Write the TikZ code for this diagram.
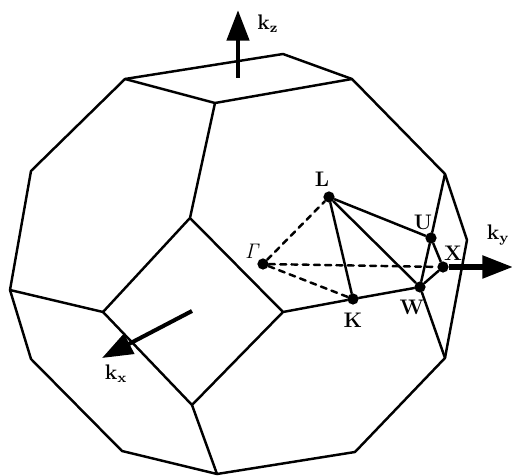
\documentclass[tikz,border=0pt]{standalone}
\usepackage{amsmath,amssymb}
\usepackage{tikz}
\usetikzlibrary{arrows.meta}
\tikzset{
 edge/.style={line width=1.4pt,line join=round,line cap=round},
 path/.style={edge,dash pattern=on 3.4pt off 3pt},
 axis/.style={line width=2.5pt,-{Triangle[length=17.5pt,width=12.5pt]}},
 pt/.style={circle,fill=black,inner sep=0pt,minimum size=6.4pt},
 lab/.style={inner sep=0pt,font=\fontsize{12}{14}\selectfont\bfseries}
}
\begin{document}
\begin{tikzpicture}[x=0.02cm,y=-0.02cm]
 \useasboundingbox (0,0) rectangle (512,476);
 % outline of the zone
 \draw[edge] (125,79) -- (283,54) -- (352,79) -- (445,174) -- (467,240) -- (445,358)
  -- (355,452) -- (217,474) -- (122,451) -- (31,359) -- (10,290) -- (31,171) -- cycle;
 % faces
 \draw[edge] (125,79) -- (215,103) -- (352,79);
 \draw[edge] (215,103) -- (190,218) -- (103,312) -- (192,405) -- (283,312) -- (190,218);
 \draw[edge] (103,312) -- (10,290);
 \draw[edge] (192,405) -- (217,474);
 % symmetry points
 \node[pt] (Gam) at (263,264) {};
 \node[pt] (L) at (329,197) {};
 \node[pt] (K) at (353,299) {};
 \node[pt] (W) at (420,287) {};
 \node[pt] (U) at (431,238) {};
 \node[pt] (X) at (443,267) {};
 \coordinate (c) at (283,312);
 \coordinate (d) at (445,358);
 \coordinate (e) at (445,174);
 \coordinate (ky) at (513,267);
 \coordinate (zb) at (238,78);
 \coordinate (zt) at (238,10);
 \coordinate (xb) at (192,311);
 \coordinate (xt) at (102,358);
 \draw[edge] (c) -- (K) -- (W) -- (d);
 \draw[edge] (L) -- (U) -- (e);
 \draw[edge] (L) -- (K);
 \draw[edge] (L) -- (W) -- (U) -- (X) -- (W);
 \draw[path] (Gam) -- (L);
 \draw[path] (Gam) -- (K);
 \draw[path] (Gam) -- (X);
 \draw[axis,line width=3.2pt] (X) -- (ky);
 \draw[axis,line width=2.8pt] (zb) -- (zt);
 \draw[axis,line width=2.3pt] (xb) -- (xt);
 % labels
 \node[lab] (lL) at (322,179) {L};
 \node[lab] (lU) at (423,222) {U};
 \node[lab] (lX) at (453,253) {X};
 \node[lab] (lW) at (412,307) {W};
 \node[lab] (lK) at (353,320) {K};
 \node[lab] (lG) at (253,251) {$\mathit{\Gamma}$};
 \node[lab] (lz) at (268,24) {k$_{\text{z}}$};
 \node[lab] (ly) at (498,235) {k$_{\text{y}}$};
 \node[lab] (lx) at (116,374) {k$_{\text{x}}$};
\end{tikzpicture}
\end{document}
